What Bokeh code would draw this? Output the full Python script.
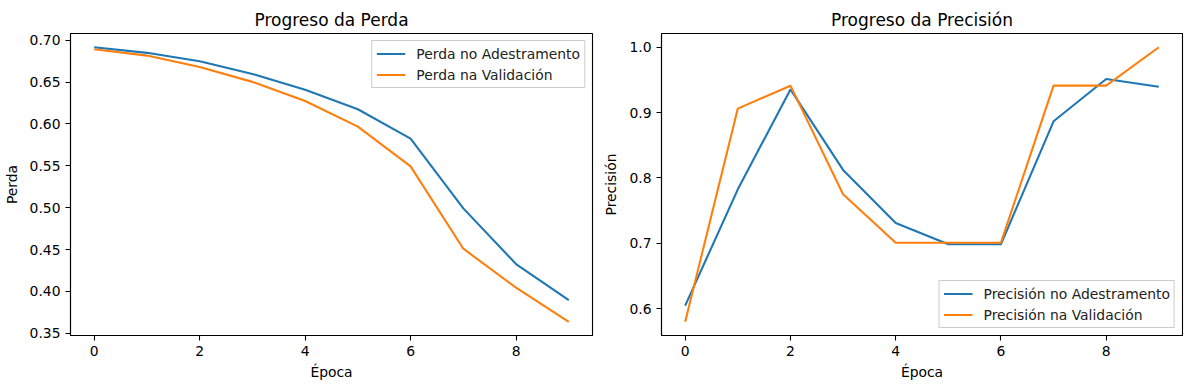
from bokeh.plotting import figure
from bokeh.layouts import row
from bokeh.models import FixedTicker, NumeralTickFormatter, Range1d, Legend, LegendItem
from bokeh.embed import file_html
from bokeh.resources import INLINE

# ---- data ----
epochs = [0, 1, 2, 3, 4, 5, 6, 7, 8, 9]
loss_train = [0.6917, 0.6850, 0.6750, 0.6598, 0.6410, 0.6176, 0.5825, 0.4992, 0.4327, 0.3896]
loss_val = [0.6893, 0.6817, 0.6680, 0.6503, 0.6275, 0.5968, 0.5494, 0.4510, 0.4044, 0.3637]
acc_train = [0.6046, 0.7826, 0.9355, 0.8123, 0.7312, 0.6985, 0.6985, 0.8867, 0.9514, 0.9396]
acc_val = [0.5800, 0.9061, 0.9412, 0.7750, 0.7010, 0.7010, 0.7010, 0.9412, 0.9412, 1.0000]

x_ticks = [0, 2, 4, 6, 8]
loss_ticks = [0.35, 0.40, 0.45, 0.50, 0.55, 0.60, 0.65, 0.70]
acc_ticks = [0.6, 0.7, 0.8, 0.9, 1.0]

titles = ["Progreso da Perda", "Progreso da Precisión"]
ylabels = ["Perda", "Precisión"]
xlabel = "Época"
legend_loss = ["Perda no Adestramento", "Perda na Validación"]
legend_acc = ["Precisión no Adestramento", "Precisión na Validación"]

BLUE = "#1f77b4"
ORANGE = "#ff7f0e"
FONT = "DejaVu Sans"
TICK_PX = "13.9px"


def make_fig(title, ylabel, ys, labels, yticks, yfmt, legend_loc, min_left, min_right, fwidth):
    lo = min(min(ys[0]), min(ys[1]))
    hi = max(max(ys[0]), max(ys[1]))
    pad = (hi - lo) * 0.05
    p = figure(
        output_backend="svg", toolbar_location=None,
        frame_width=fwidth, frame_height=302,
        min_border_left=min_left, min_border_right=min_right,
        min_border_top=33, min_border_bottom=39,
        x_range=Range1d(-0.45, 9.45), y_range=Range1d(lo - pad, hi + pad),
    )
    p.title.text = title
    p.title.text_font = FONT
    p.title.text_font_size = "17px"
    p.title.text_font_style = "normal"
    p.title.align = "center"
    p.title.text_color = "black"
    p.title.standoff = 8

    p.outline_line_color = "black"
    p.outline_line_width = 1.1
    p.xgrid.visible = False
    p.ygrid.visible = False

    for ax in (p.xaxis[0], p.yaxis[0]):
        ax.axis_line_color = "black"
        ax.axis_line_width = 1.1
        ax.major_tick_line_color = "black"
        ax.major_tick_line_width = 1.1
        ax.major_tick_out = 5
        ax.major_tick_in = 0
        ax.minor_tick_line_color = None
        ax.major_label_text_font = FONT
        ax.major_label_text_font_size = TICK_PX
        ax.major_label_text_color = "black"
        ax.axis_label_text_font = FONT
        ax.axis_label_text_font_size = TICK_PX
        ax.axis_label_text_font_style = "normal"
        ax.axis_label_text_color = "black"

    p.xaxis.ticker = FixedTicker(ticks=x_ticks)
    p.xaxis.major_label_standoff = 5
    p.xaxis.axis_label = xlabel
    p.xaxis.axis_label_standoff = 5
    p.yaxis.ticker = FixedTicker(ticks=yticks)
    p.yaxis.formatter = NumeralTickFormatter(format=yfmt)
    p.yaxis.major_label_standoff = 5
    p.yaxis.axis_label = ylabel
    p.yaxis.axis_label_standoff = 7

    r1 = p.line(epochs, ys[0], line_color=BLUE, line_width=2.1)
    r2 = p.line(epochs, ys[1], line_color=ORANGE, line_width=2.1)

    legend = Legend(
        items=[LegendItem(label=labels[0], renderers=[r1]), LegendItem(label=labels[1], renderers=[r2])],
        location=legend_loc, margin=7, padding=4, spacing=4,
        glyph_width=29, glyph_height=17, label_height=17, label_standoff=11,
        label_text_font=FONT, label_text_font_size=TICK_PX, label_text_color="#222222",
        border_line_color="#cccccc", border_line_width=1, border_line_alpha=1.0,
        background_fill_color="white", background_fill_alpha=0.8,
    )
    p.add_layout(legend, "center")
    return p


p1 = make_fig(titles[0], ylabels[0], [loss_train, loss_val], legend_loss, loss_ticks, "0.00",
              "top_right", 70, 8, 522)
p2 = make_fig(titles[1], ylabels[1], [acc_train, acc_val], legend_acc, acc_ticks, "0.0",
              "bottom_right", 59, 9, 521)

layout = row(p1, p2)
open("out.html", "w").write(file_html(layout, INLINE))
